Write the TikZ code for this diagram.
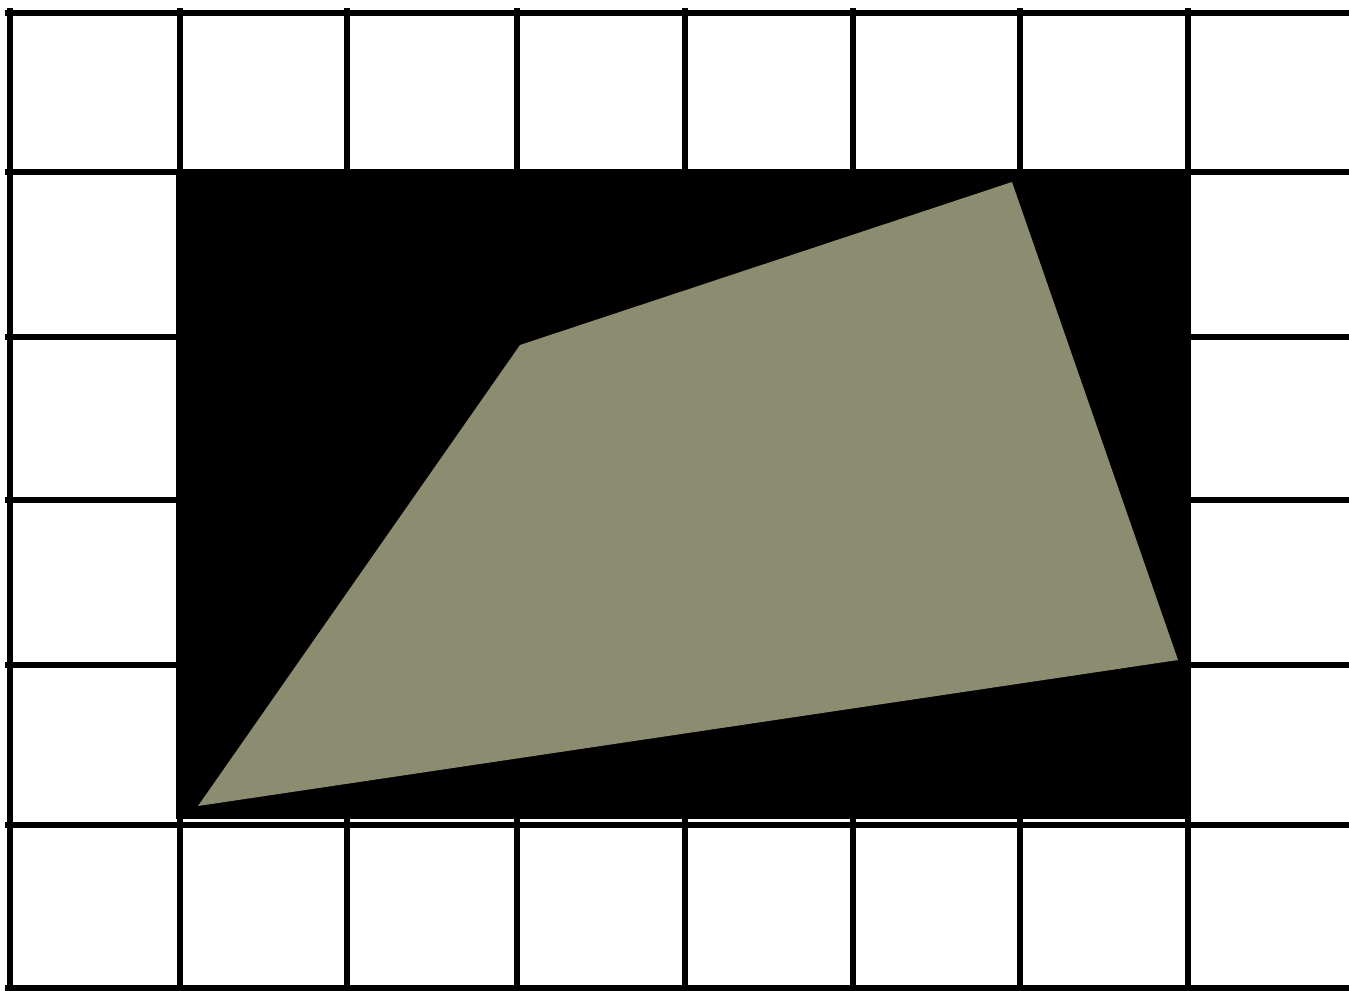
\documentclass[tikz,border=0pt]{standalone}
\definecolor{olivefill}{RGB}{140,140,112}
\tikzset{gridline/.style={line width=0.33cm, black}}
\begin{document}
\begin{tikzpicture}[x=0.05cm,y=-0.05cm]
\useasboundingbox (0,0) rectangle (1349,991);
\fill[white] (0,0) rectangle (1349,991);
% grid vertical lines
\foreach \x in {10,180,347,517,685,853,1020,1188} {
  \draw[gridline] (\x,8) -- (\x,991);
}
% grid horizontal lines
\foreach \y in {13,172,337,500,665,825,988} {
  \draw[gridline] (5,\y) -- (1349,\y);
}
% black rectangle
\fill[black] (176,170) rectangle (1188,819);
% quadrilateral
\fill[olivefill] (198,806) -- (520,345) -- (1012,182) -- (1178,660) -- cycle;
\end{tikzpicture}
\end{document}
